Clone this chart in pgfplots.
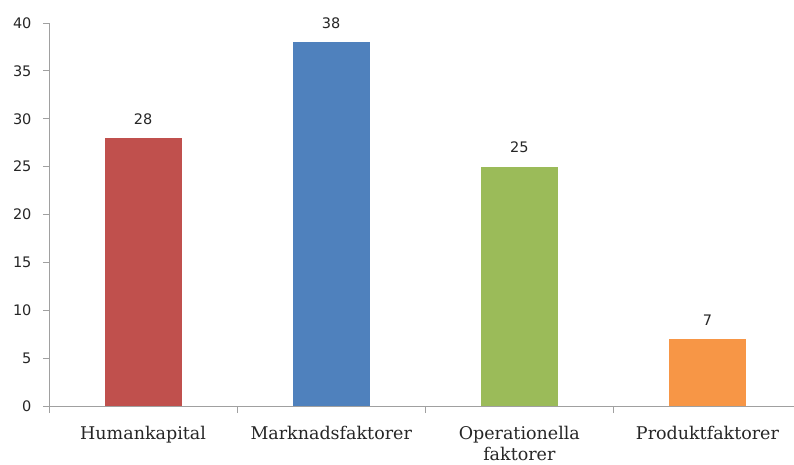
\documentclass[border=0pt]{standalone}
\usepackage{fontspec}
\setmainfont{DejaVu Serif}
\newfontfamily\numfont{DejaVu Sans}
\usepackage{pgfplots}
\pgfplotsset{compat=1.18}
\definecolor{cred}{HTML}{C0504D}
\definecolor{cblue}{HTML}{4F81BD}
\definecolor{cgreen}{HTML}{9BBB59}
\definecolor{corange}{HTML}{F79646}
\definecolor{axisgray}{HTML}{A0A0A0}
\definecolor{txt}{HTML}{262626}
\begin{document}
\begin{tikzpicture}
\useasboundingbox (-49pt,-58pt) rectangle (745pt,406pt);
\begin{axis}[
  scale only axis, width=745pt, height=383pt,
  xmin=-0.5, xmax=3.46, ymin=0, ymax=40,
  axis lines=left,
  axis line style={-, draw=axisgray, line width=1pt},
  ytick={0,5,...,40},
  xtick={0,1,2,3},
  xticklabels={Humankapital, Marknadsfaktorer, {Operationella\\faktorer}, Produktfaktorer},
  major x tick style={draw=none},
  minor xtick={-0.5,0.5,1.5,2.5},
  tick align=outside,
  major tick length=6pt, minor tick length=7pt,
  tick style={axisgray, line width=1pt},
  /pgf/number format/assume math mode=true,
  yticklabel style={font=\numfont\fontsize{14.5}{16}\selectfont, text=txt, xshift=-8pt},
  xticklabel style={font=\fontsize{17.5}{21}\selectfont, text=txt, align=center, anchor=north, yshift=-11pt},
  ybar, bar width=0.41, bar shift=0pt,
  nodes near coords,
  every node near coord/.append style={font=\numfont\fontsize{14.5}{16}\selectfont, text=txt, yshift=10pt},
  clip=false,
]
\addplot[fill=cred, draw=none] coordinates {(0,28)};
\addplot[fill=cblue, draw=none] coordinates {(1,38)};
\addplot[fill=cgreen, draw=none] coordinates {(2,25)};
\addplot[fill=corange, draw=none] coordinates {(3,7)};
\end{axis}
\end{tikzpicture}
\end{document}
